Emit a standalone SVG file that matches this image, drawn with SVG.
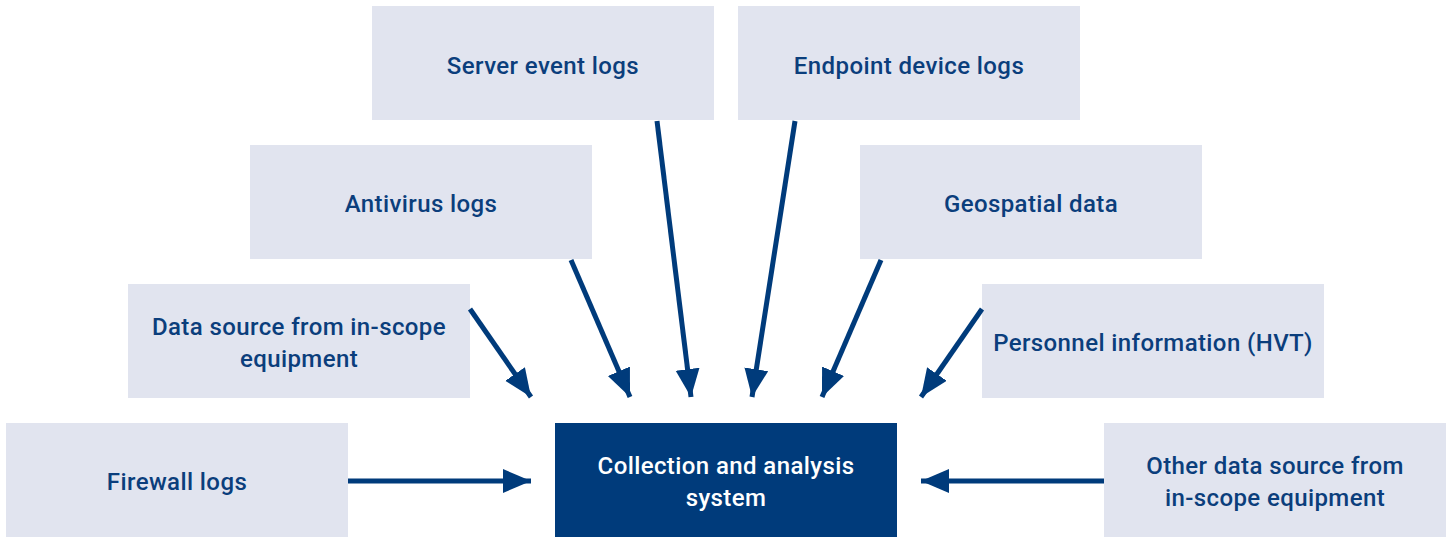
<svg xmlns="http://www.w3.org/2000/svg" width="1449" height="538" viewBox="0 0 1449 538">
<style>
.box{fill:#e1e4ef}
.main{fill:#003b7b}
.t{font-family:Roboto,"Liberation Sans",sans-serif;font-size:24px;font-weight:500;letter-spacing:0.4px;fill:#0b3e7c;text-anchor:middle}
.tw{font-family:Roboto,"Liberation Sans",sans-serif;font-size:24px;font-weight:500;letter-spacing:0.4px;fill:#ffffff;text-anchor:middle}
.c{stroke:#003b7b;stroke-width:5;fill:none;marker-end:url(#ah)}
</style>
<defs>
<marker id="ah" markerUnits="userSpaceOnUse" markerWidth="30" markerHeight="26" refX="28" refY="12" orient="auto" viewBox="0 0 30 26">
<path d="M0,0 L28,12 L0,24 Z" fill="#003b7b"/>
</marker>
</defs>
<rect width="1449" height="538" fill="#ffffff"/>
<g id="server"><rect class="box" x="372" y="6" width="342" height="114"/><text class="t" x="543" y="74">Server event logs</text></g>
<g id="endpoint"><rect class="box" x="738" y="6" width="342" height="114"/><text class="t" x="909" y="74">Endpoint device logs</text></g>
<g id="antivirus"><rect class="box" x="250" y="145" width="342" height="114"/><text class="t" x="421" y="212">Antivirus logs</text></g>
<g id="geospatial"><rect class="box" x="860" y="145" width="342" height="114"/><text class="t" x="1031" y="212">Geospatial data</text></g>
<g id="datasource"><rect class="box" x="128" y="284" width="342" height="114"/><text class="t" x="299" y="335">Data source from in-scope</text><text class="t" x="299" y="367">equipment</text></g>
<g id="personnel"><rect class="box" x="982" y="284" width="342" height="114"/><text class="t" x="1153" y="351">Personnel information (HVT)</text></g>
<g id="firewall"><rect class="box" x="6" y="423" width="342" height="114"/><text class="t" x="177" y="490">Firewall logs</text></g>
<g id="collection"><rect class="main" x="555" y="423" width="342" height="114"/><text class="tw" x="726" y="474">Collection and analysis</text><text class="tw" x="726" y="506">system</text></g>
<g id="other"><rect class="box" x="1104" y="423" width="342" height="114"/><text class="t" x="1275" y="474">Other data source from</text><text class="t" x="1275" y="506">in-scope equipment</text></g>
<g id="connectors">
<line class="c" x1="348" y1="481" x2="531" y2="481"/>
<line class="c" x1="1104" y1="481" x2="921" y2="481"/>
<line class="c" x1="470" y1="309" x2="531" y2="397"/>
<line class="c" x1="571" y1="260" x2="630" y2="397"/>
<line class="c" x1="657" y1="121" x2="691" y2="397"/>
<line class="c" x1="795" y1="121" x2="752" y2="397"/>
<line class="c" x1="881" y1="260" x2="822" y2="397"/>
<line class="c" x1="982" y1="309" x2="921" y2="397"/>
</g>
</svg>
